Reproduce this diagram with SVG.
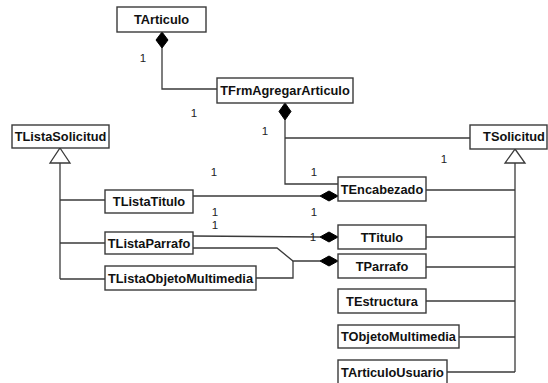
<svg xmlns="http://www.w3.org/2000/svg" width="548" height="383" viewBox="0 0 548 383">
  <style>
    .box rect { fill: #ffffff; stroke: #3a3a3a; stroke-width: 1.4; }
    .box text { font-family: "Liberation Sans", Arial, sans-serif; font-weight: bold; font-size: 12.8px; fill: #111; text-anchor: middle; }
    .wire { fill: none; stroke: #3a3a3a; stroke-width: 1.3; }
    .dia { fill: #000; stroke: #000; stroke-width: 1; }
    .tri { fill: #fff; stroke: #3a3a3a; stroke-width: 1.3; }
    .mult { font-family: "Liberation Sans", Arial, sans-serif; font-size: 11.5px; fill: #222; text-anchor: middle; }
  </style>

  <rect width="548" height="383" fill="#ffffff"/>

  <!-- connectors -->
  <g id="connectors">
    <!-- TArticulo <>- TFrmAgregarArticulo -->
    <polyline class="wire" points="162,48 162,89 217,89"/>
    <polygon class="dia" points="162,32 168,40 162,48 156,40"/>

    <!-- TFrmAgregarArticulo <>- TEncabezado / TSolicitud -->
    <polyline class="wire" points="285,120 285,184 338,184"/>
    <line class="wire" x1="285" y1="138" x2="470" y2="138"/>
    <polygon class="dia" points="285,103 291,111.5 285,120 279,111.5"/>

    <!-- generalization to TListaSolicitud -->
    <line class="wire" x1="60" y1="163" x2="60" y2="279"/>
    <line class="wire" x1="60" y1="200" x2="105" y2="200"/>
    <line class="wire" x1="60" y1="243" x2="105" y2="243"/>
    <line class="wire" x1="60" y1="279" x2="105" y2="279"/>
    <polygon class="tri" points="60,148 70,163 50,163"/>

    <!-- generalization to TSolicitud -->
    <line class="wire" x1="515" y1="163" x2="515" y2="372"/>
    <line class="wire" x1="426" y1="190" x2="515" y2="190"/>
    <line class="wire" x1="426" y1="237" x2="515" y2="237"/>
    <line class="wire" x1="426" y1="267" x2="515" y2="267"/>
    <line class="wire" x1="426" y1="301" x2="515" y2="301"/>
    <line class="wire" x1="459" y1="337" x2="515" y2="337"/>
    <line class="wire" x1="447" y1="372" x2="515" y2="372"/>
    <polygon class="tri" points="515,149 525,163 505,163"/>

    <!-- list compositions -->
    <line class="wire" x1="193" y1="196" x2="320" y2="196"/>
    <polygon class="dia" points="320,196 329,191 338,196 329,201"/>

    <line class="wire" x1="193" y1="236" x2="320" y2="237"/>
    <polygon class="dia" points="320,237 329,232 338,237 329,242"/>

    <polyline class="wire" points="193,248 277,248 293,261 320,261"/>
    <polyline class="wire" points="256,278 293,278 293,261"/>
    <polygon class="dia" points="320,261 329,256 338,261 329,266"/>
  </g>

  <!-- multiplicities -->
  <g id="multiplicities">
    <text class="mult" x="143" y="62">1</text>
    <text class="mult" x="194" y="117">1</text>
    <text class="mult" x="265" y="135">1</text>
    <text class="mult" x="214" y="176">1</text>
    <text class="mult" x="314" y="176">1</text>
    <text class="mult" x="444" y="163">1</text>
    <text class="mult" x="215" y="216">1</text>
    <text class="mult" x="215" y="229">1</text>
    <text class="mult" x="314" y="216">1</text>
    <text class="mult" x="313" y="241">1</text>
  </g>

  <!-- classes -->
  <g id="TArticulo" class="box">
    <rect x="117" y="7" width="89" height="25"/>
    <text x="161.5" y="24">TArticulo</text>
  </g>
  <g id="TFrmAgregarArticulo" class="box">
    <rect x="217" y="78" width="136" height="25"/>
    <text x="285" y="95">TFrmAgregarArticulo</text>
  </g>
  <g id="TListaSolicitud" class="box">
    <rect x="12" y="125" width="97" height="23"/>
    <text x="60.5" y="141">TListaSolicitud</text>
  </g>
  <g id="TSolicitud" class="box">
    <rect x="470" y="125" width="77" height="24"/>
    <text x="514" y="141">TSolicitud</text>
  </g>
  <g id="TListaTitulo" class="box">
    <rect x="105" y="190" width="88" height="23"/>
    <text x="149" y="206">TListaTitulo</text>
  </g>
  <g id="TListaParrafo" class="box">
    <rect x="105" y="232" width="88" height="22"/>
    <text x="149" y="248">TListaParrafo</text>
  </g>
  <g id="TListaObjetoMultimedia" class="box">
    <rect x="105" y="266" width="151" height="24"/>
    <text x="180.5" y="283">TListaObjetoMultimedia</text>
  </g>
  <g id="TEncabezado" class="box">
    <rect x="338" y="177" width="88" height="24"/>
    <text x="382" y="194">TEncabezado</text>
  </g>
  <g id="TTitulo" class="box">
    <rect x="338" y="225" width="88" height="24"/>
    <text x="382" y="242">TTitulo</text>
  </g>
  <g id="TParrafo" class="box">
    <rect x="338" y="254" width="88" height="24"/>
    <text x="382" y="271">TParrafo</text>
  </g>
  <g id="TEstructura" class="box">
    <rect x="338" y="289" width="88" height="24"/>
    <text x="382" y="306">TEstructura</text>
  </g>
  <g id="TObjetoMultimedia" class="box">
    <rect x="338" y="325" width="121" height="23"/>
    <text x="398.5" y="341">TObjetoMultimedia</text>
  </g>
  <g id="TArticuloUsuario" class="box">
    <rect x="338" y="360" width="109" height="24"/>
    <text x="392.5" y="377">TArticuloUsuario</text>
  </g>
</svg>
